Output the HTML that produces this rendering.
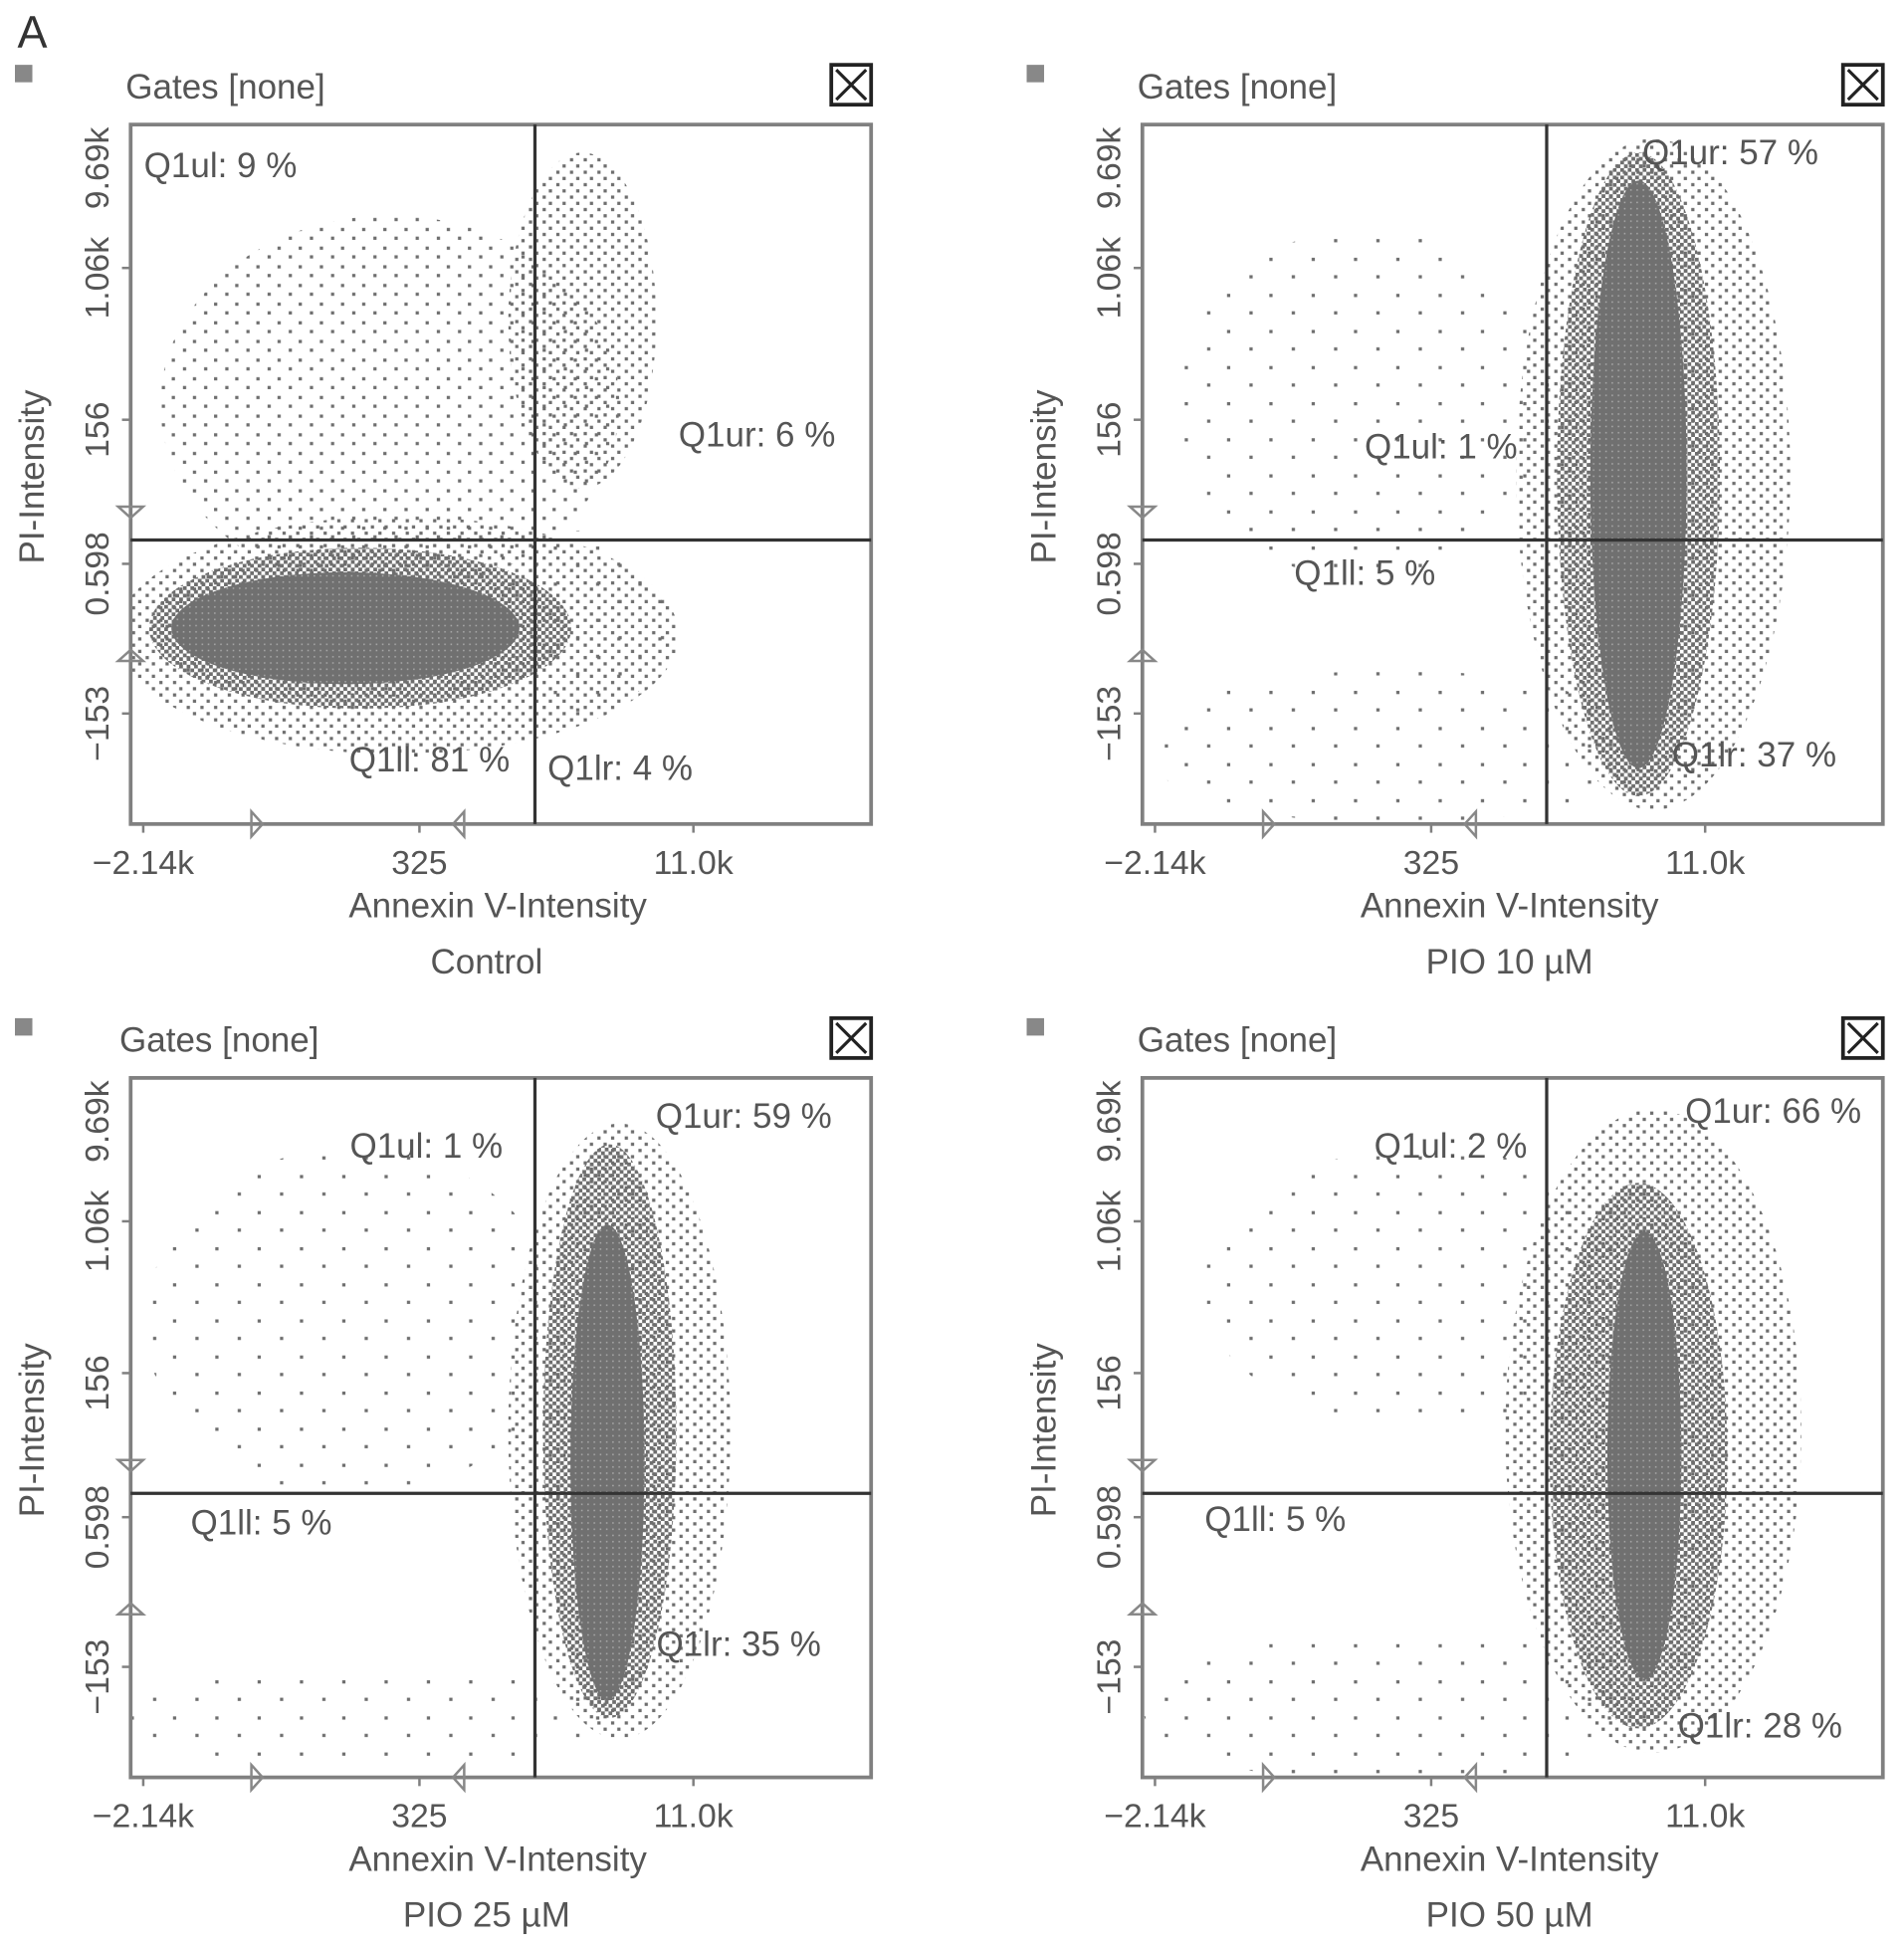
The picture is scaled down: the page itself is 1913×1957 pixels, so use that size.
<!DOCTYPE html>
<html><head><meta charset="utf-8"><title>Annexin V / PI flow cytometry</title>
<style>
html,body{margin:0;padding:0;background:#fff;}
svg{display:block;}
text{font-family:"Liberation Sans",sans-serif;fill:#555;}
</style></head>
<body>
<svg id="fig" width="1913" height="1957" viewBox="0 0 1530 1565" xmlns="http://www.w3.org/2000/svg">
<defs>
<pattern id="p0" width="34" height="29" patternUnits="userSpaceOnUse"><rect x="3" y="4" width="2.6" height="2.6" fill="#6e6e6e"/><rect x="21" y="18" width="2.6" height="2.6" fill="#6e6e6e"/></pattern>
<pattern id="p4" width="17" height="15" patternUnits="userSpaceOnUse"><rect x="2" y="3" width="2.6" height="2.6" fill="#6e6e6e"/><rect x="11" y="10" width="2.6" height="2.6" fill="#6e6e6e"/></pattern>
<pattern id="p1" width="11" height="10" patternUnits="userSpaceOnUse"><rect x="1" y="2" width="2.6" height="2.6" fill="#6e6e6e"/><rect x="7" y="7" width="2.6" height="2.6" fill="#6e6e6e"/></pattern>
<pattern id="p2" width="6" height="6" patternUnits="userSpaceOnUse"><rect x="0" y="0" width="3" height="3" fill="#6e6e6e"/><rect x="3" y="3" width="3" height="3" fill="#6e6e6e"/></pattern>
<pattern id="p3" width="5" height="5" patternUnits="userSpaceOnUse"><rect width="5" height="5" fill="#707070"/><rect x="2" y="2" width="1.2" height="1.2" fill="#aaa"/></pattern>
</defs>
<text x="14" y="38" style="font-size:36px;fill:#333">A</text>
</svg>
<script>
// axis domain: 0..100 on both axes (display scale)
const xTickLabels = ["\u22122.14k", "325", "11.0k"];
const xTickValues = [1.7, 39, 76];
const yTickLabels = ["\u2212153", "0.598", "156", "1.06k", "9.69k"];
const yTickValues = [15.8, 37.2, 57.8, 79.5, 94];
const gateX = [54.6, 54.6, 54.6, 54.6];
const gateY = [40.6, 40.6, 40.6, 40.6];
const panelTitles = ["Control", "PIO 10 \u00b5M", "PIO 25 \u00b5M", "PIO 50 \u00b5M"];
// quadrant labels: [text, xUnit, yUnit]
const quadLabels = [
  [["Q1ul: 9 %",1.8,92.5],["Q1ur: 6 %",74,54],["Q1ll: 81 %",29.5,7.5],["Q1lr: 4 %",56.3,6.3]],
  [["Q1ur: 57 %",67.5,94.3],["Q1ul: 1 %",30,52.3],["Q1ll: 5 %",20.5,34.2],["Q1lr: 37 %",71.5,8.2]],
  [["Q1ul: 1 %",29.6,88.6],["Q1ur: 59 %",70.9,92.9],["Q1ll: 5 %",8.1,34.7],["Q1lr: 35 %",71,17.4]],
  [["Q1ul: 2 %",31.3,88.6],["Q1ur: 66 %",73.3,93.6],["Q1ll: 5 %",8.4,35.2],["Q1lr: 28 %",72.3,5.7]]
];
// event clusters: [cx, cy, rx, ry, densityLevel] (drawn in listed order)
const clusters1 = [[35,60,31,27,4],[36,27,38,17,1],[61,29,12,13,0],[61,72,10,24,1],[31,28,28.5,11.5,2],[29,28,23.5,8,3]];
const clusters2 = [[30,60,26,25,0],[34,11,34,11,0],[69,50,18.5,48,1],[67,50,11,46,2],[67,50,6.5,42,3]];
const clusters3 = [[30,65,28,25,0],[33,8.5,34,7,0],[66,49.5,15,44,1],[64.7,49.5,9,41,2],[64.4,45,5,34,3]];
const clusters4 = [[38,70,30,20,0],[34,10,34,11,0],[69,49.5,20,46,1],[67,46,12,39,2],[67.8,46,5,32,3]];
const allClusters = [clusters1, clusters2, clusters3, clusters4];

const NS = "http://www.w3.org/2000/svg";
const svg = document.getElementById("fig");
const origins = [[0,0],[813,0],[0,766],[813,766]];
const BX = 105, BY = 100, BW = 595, BH = 562;
function mk(tag, attrs, parent){ const e=document.createElementNS(NS,tag); for(const k in attrs) e.setAttribute(k,attrs[k]); (parent||svg).appendChild(e); return e; }

for (let p=0;p<4;p++){
  const [ox,oy] = origins[p];
  const g = mk("g",{transform:`translate(${ox},${oy})`});
  
  
  const sx = v => BX + v/100*BW;
  const sy = v => BY + BH - v/100*BH;

  const sq = mk("rect",{x:12,y:52,width:14,height:14,fill:"#888"},g);
  
  
  const gt = mk("text",{x: p===2?96:101, y:79, "font-size":28},g); gt.textContent="Gates [none]";
  
  
  const cb = mk("g",{},g);
  
  
  mk("rect",{x:668,y:52,width:32,height:32,fill:"none",stroke:"#222","stroke-width":3},cb);
  mk("path",{d:"M672 56 L696 80 M696 56 L672 80",stroke:"#222","stroke-width":2.5},cb);

  const clip = mk("clipPath",{id:"clip"+p},g);
  mk("rect",{x:BX,y:BY,width:BW,height:BH},clip);
  const cg = mk("g",{"clip-path":`url(#clip${p})`},g);
  allClusters[p].forEach(c=>{
    const e = mk("ellipse",{cx:sx(c[0]),cy:sy(c[1]),rx:c[2]/100*BW,ry:c[3]/100*BH,fill:`url(#p${c[4]})`},cg);
    
    
  });

  const box = mk("rect",{x:BX,y:BY,width:BW,height:BH,fill:"none",stroke:"#808080","stroke-width":3},g);
  
  
  const vx = mk("line",{x1:sx(gateX[p]),x2:sx(gateX[p]),y1:BY,y2:BY+BH,stroke:"#333","stroke-width":2.6},g);
  
  
  const hy = mk("line",{x1:BX,x2:BX+BW,y1:sy(gateY[p]),y2:sy(gateY[p]),stroke:"#333","stroke-width":2.6},g);
  
  

  xTickValues.forEach((v,i)=>{
    mk("line",{x1:sx(v),x2:sx(v),y1:BY+BH,y2:BY+BH+7,stroke:"#808080","stroke-width":2},g);
    const t = mk("text",{x:sx(v),y:702,"font-size":27,"text-anchor":"middle"},g); t.textContent=xTickLabels[i];
    
    
  });
  yTickValues.forEach((v,i)=>{
    if (v<90) mk("line",{x1:BX-7,x2:BX,y1:sy(v),y2:sy(v),stroke:"#808080","stroke-width":2},g);
    const yy = v<90 ? sy(v)+8 : 135;
    const t = mk("text",{x:0,y:0,"font-size":27,"text-anchor":"middle",transform:`translate(87,${yy}) rotate(-90)`},g); t.textContent=yTickLabels[i];
    
    
  });
  mk("path",{d:`M${BX-10} 407 L${BX+10} 407 L${BX} 416 Z`,fill:"none",stroke:"#888","stroke-width":2},g);
  mk("path",{d:`M${BX-10} 531 L${BX+10} 531 L${BX} 522 Z`,fill:"none",stroke:"#888","stroke-width":2},g);
  mk("path",{d:`M202 652 L202 672 L211 662 Z`,fill:"none",stroke:"#888","stroke-width":2},g);
  mk("path",{d:`M373 652 L373 672 L364 662 Z`,fill:"none",stroke:"#888","stroke-width":2},g);

  const xt = mk("text",{x:400,y:737,"font-size":28,"text-anchor":"middle"},g); xt.textContent="Annexin V-Intensity";
  
  
  const yt = mk("text",{x:0,y:0,"font-size":28,"text-anchor":"middle",transform:"translate(35,383) rotate(-90)"},g); yt.textContent="PI-Intensity";
  
  
  const pt = mk("text",{x:p%2===0?391:400,y:782,"font-size":28,"text-anchor":"middle"},g); pt.textContent=panelTitles[p];
  
  

  quadLabels[p].forEach(q=>{
    const t = mk("text",{x:sx(q[1]),y:sy(q[2]),"font-size":28},g); t.textContent=q[0];
    
    
  });
}
</script>
</body></html>
